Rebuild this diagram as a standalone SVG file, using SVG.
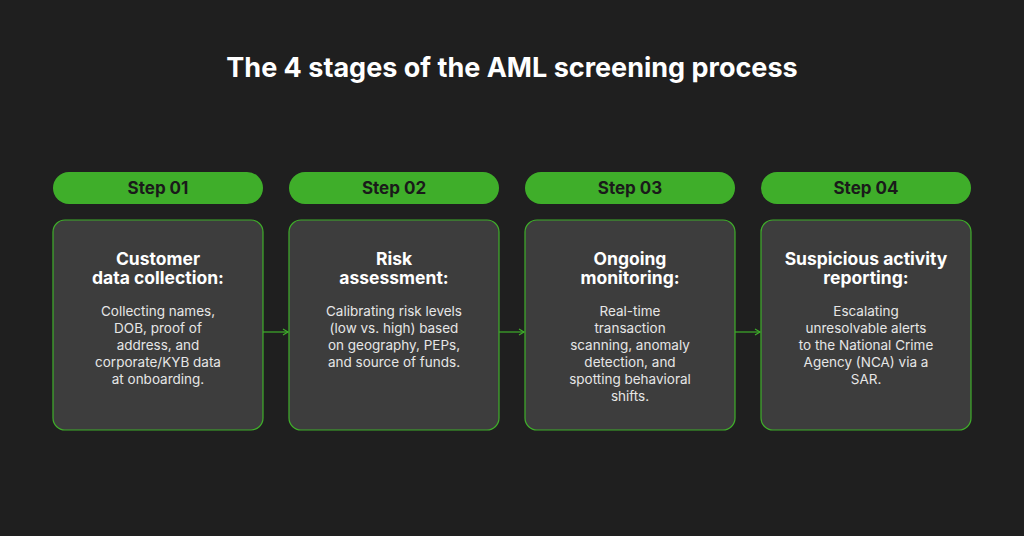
<svg xmlns="http://www.w3.org/2000/svg" width="1024" height="536" viewBox="0 0 1024 536">
<defs>
<style>
.pill{fill:#3fae2a}
.box{fill:#3d3d3d;stroke:#3fae2a;stroke-width:1.2}
.pt{font-family:Inter,"Liberation Sans",sans-serif;font-weight:700;font-size:17px;fill:#1a1a1a;text-anchor:middle}
.h{font-family:Inter,"Liberation Sans",sans-serif;font-weight:700;font-size:17.5px;fill:#fff;text-anchor:middle}
.b{font-family:Inter,"Liberation Sans",sans-serif;font-size:13.5px;fill:#e6e6e6;text-anchor:middle}
.c{stroke:#3fae2a;stroke-width:1.2;fill:none}
</style>
<marker id="ar" markerWidth="8" markerHeight="8" refX="6" refY="4" orient="auto" markerUnits="userSpaceOnUse"><path d="M1,1 L6,4 L1,7" fill="none" stroke="#3fae2a" stroke-width="1.2"/></marker>
</defs>
<rect width="1024" height="536" fill="#1f1f1f"/>
<text x="512" y="77" font-family="Inter,'Liberation Sans',sans-serif" font-weight="700" font-size="27" fill="#fff" text-anchor="middle">The 4 stages of the AML screening process</text>
<g id="connectors">
<line class="c" x1="263" y1="332" x2="288" y2="332" marker-end="url(#ar)"/>
<line class="c" x1="499" y1="332" x2="524" y2="332" marker-end="url(#ar)"/>
<line class="c" x1="735" y1="332" x2="760" y2="332" marker-end="url(#ar)"/>
</g>
<g id="step1">
<rect class="pill" x="53" y="172" width="210" height="32" rx="16"/><text class="pt" x="158" y="194">Step 01</text>
<rect class="box" x="53" y="220" width="210" height="210" rx="12"/>
<text class="h" x="158" y="265">Customer</text><text class="h" x="158" y="284">data collection:</text>
<text class="b" x="158" y="316">Collecting names,</text><text class="b" x="158" y="333">DOB, proof of</text><text class="b" x="158" y="350">address, and</text><text class="b" x="158" y="367">corporate/KYB data</text><text class="b" x="158" y="384">at onboarding.</text>
</g>
<g id="step2">
<rect class="pill" x="289" y="172" width="210" height="32" rx="16"/><text class="pt" x="394" y="194">Step 02</text>
<rect class="box" x="289" y="220" width="210" height="210" rx="12"/>
<text class="h" x="394" y="265">Risk</text><text class="h" x="394" y="284">assessment:</text>
<text class="b" x="394" y="316">Calibrating risk levels</text><text class="b" x="394" y="333">(low vs. high) based</text><text class="b" x="394" y="350">on geography, PEPs,</text><text class="b" x="394" y="367">and source of funds.</text>
</g>
<g id="step3">
<rect class="pill" x="525" y="172" width="210" height="32" rx="16"/><text class="pt" x="630" y="194">Step 03</text>
<rect class="box" x="525" y="220" width="210" height="210" rx="12"/>
<text class="h" x="630" y="265">Ongoing</text><text class="h" x="630" y="284">monitoring:</text>
<text class="b" x="630" y="316">Real-time</text><text class="b" x="630" y="333">transaction</text><text class="b" x="630" y="350">scanning, anomaly</text><text class="b" x="630" y="367">detection, and</text><text class="b" x="630" y="384">spotting behavioral</text><text class="b" x="630" y="401">shifts.</text>
</g>
<g id="step4">
<rect class="pill" x="761" y="172" width="210" height="32" rx="16"/><text class="pt" x="866" y="194">Step 04</text>
<rect class="box" x="761" y="220" width="210" height="210" rx="12"/>
<text class="h" x="866" y="265">Suspicious activity</text><text class="h" x="866" y="284">reporting:</text>
<text class="b" x="866" y="316">Escalating</text><text class="b" x="866" y="333">unresolvable alerts</text><text class="b" x="866" y="350">to the National Crime</text><text class="b" x="866" y="367">Agency (NCA) via a</text><text class="b" x="866" y="384">SAR.</text>
</g>
</svg>
